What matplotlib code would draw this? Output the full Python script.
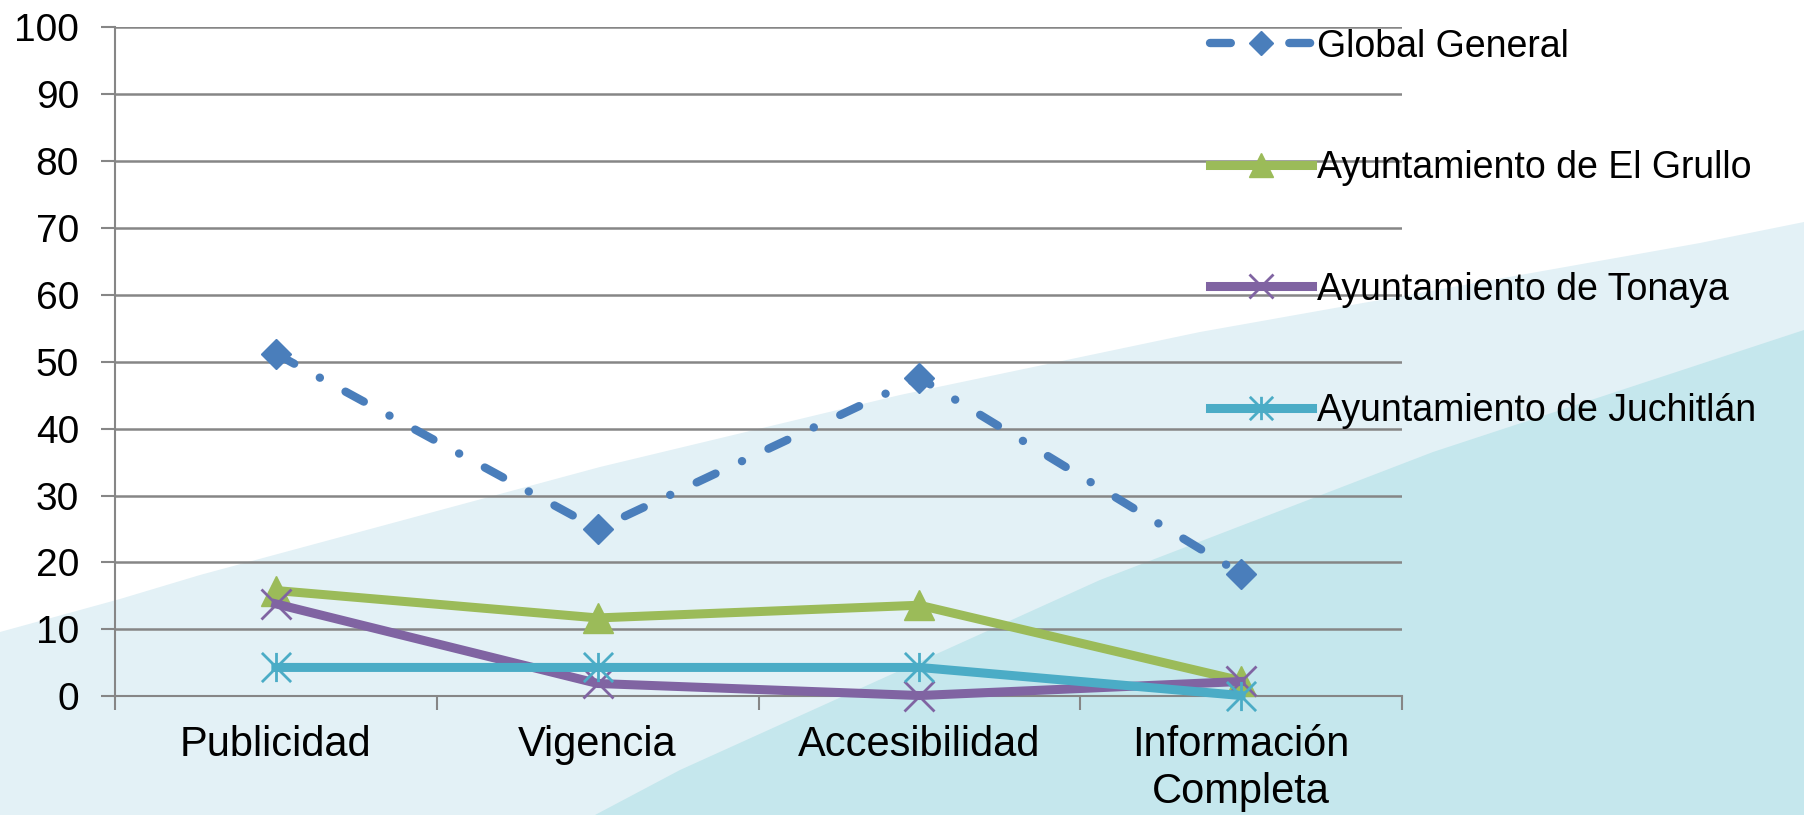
import numpy as np
import matplotlib
matplotlib.use('Agg')
import matplotlib.pyplot as plt
from matplotlib.path import Path

plt.rcParams['font.family'] = ['Liberation Sans', 'DejaVu Sans']
plt.rcParams['lines.scale_dashes'] = False

categories = ['Publicidad', 'Vigencia', 'Accesibilidad', 'Información\nCompleta']
global_general = [51.2, 25.0, 47.6, 18.3]
el_grullo = [15.8, 11.7, 13.6, 2.3]
tonaya = [13.8, 1.9, 0.1, 2.2]
juchitlan = [4.3, 4.3, 4.3, 0.1]

series_names = ['Global General', 'Ayuntamiento de El Grullo',
                'Ayuntamiento de Tonaya', 'Ayuntamiento de Juchitlán']

W, H = 1804, 815
fig = plt.figure(figsize=(W / 100, H / 100), dpi=100)

# fondo decorativo (franjas azul claro)
bg = fig.add_axes([0, 0, 1, 1], zorder=-1)
bg.set_xlim(0, W)
bg.set_ylim(H, 0)
bg.axis('off')
light = [(0, 632), (120, 599), (200, 575), (600, 467), (900, 395),
         (1200, 332), (1700, 243), (W, 222), (W, H), (0, H)]
dark = [(595, H), (680, 770), (1100, 580), (1433, 452), (W, 330), (W, H)]
bg.add_patch(plt.Polygon(light, closed=True, color='#E3F1F6', lw=0))
bg.add_patch(plt.Polygon(dark, closed=True, color='#C5E7ED', lw=0))

ax = fig.add_axes([115 / W, 1 - 696.2 / H, (1402 - 115) / W, (696.2 - 27.3) / H])
ax.set_facecolor('none')

x = np.arange(len(categories))

asterisk = Path([(0, -1), (0, 1), (-1, -1), (1, 1), (-1, 1), (1, -1)],
                [Path.MOVETO, Path.LINETO] * 3)

ax.plot(x, global_general, color='#4A7EBB', lw=6, dashes=(15, 21, 0.1, 21),
        dash_capstyle='round', marker='D', ms=15, label=series_names[0],
        zorder=5, clip_on=False)
ax.plot(x, el_grullo, color='#9BBB59', lw=6.5, marker='^', ms=22,
        label=series_names[1], zorder=4, clip_on=False)
ax.plot(x, tonaya, color='#8064A2', lw=6.5, marker='x', ms=21, mew=2,
        label=series_names[2], zorder=4, clip_on=False)
ax.plot(x, juchitlan, color='#4BACC6', lw=6.5, marker=asterisk, ms=21, mew=2,
        mfc='none', label=series_names[3], zorder=4, clip_on=False)

ax.set_xlim(-0.5, len(categories) - 0.5)
ax.set_ylim(0, 100)
ax.set_yticks(np.arange(0, 101, 10))
ax.set_xticks(x)
ax.set_xticklabels(categories, fontsize=30)
ax.set_xticks(np.arange(-0.5, len(categories), 1), minor=True)
ax.tick_params(axis='x', which='major', length=0, pad=21)
ax.tick_params(axis='x', which='minor', length=10, width=1.5, color='#868686')
ax.tick_params(axis='y', labelsize=28, length=10, width=1.5, color='#868686', pad=16)
ax.yaxis.grid(True, color='#868686', lw=1.8)
ax.set_axisbelow(True)
for s in ['top', 'right']:
    ax.spines[s].set_visible(False)
for s in ['left', 'bottom']:
    ax.spines[s].set_color('#868686')
    ax.spines[s].set_linewidth(1.5)

fig.legend(loc='upper left', bbox_to_anchor=(1210 / W, 0.965), frameon=False,
           fontsize=27, handlelength=2.72, handletextpad=0.13, labelspacing=2.28,
           borderpad=0, borderaxespad=0, markerscale=0.8)

fig.savefig('out.png', dpi=100)
